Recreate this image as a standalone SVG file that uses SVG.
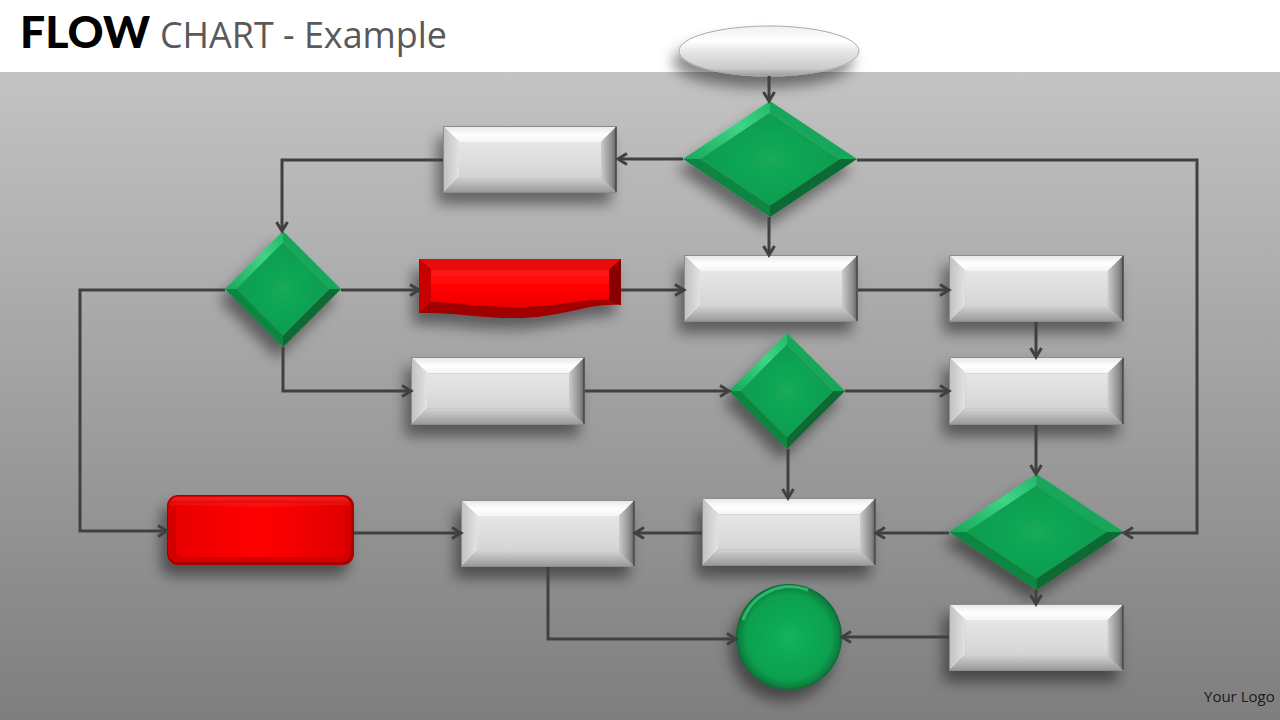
<svg xmlns="http://www.w3.org/2000/svg" xmlns:xlink="http://www.w3.org/1999/xlink" width="1280" height="720" viewBox="0 0 1280 720">
  <defs>
    <style>
      .conn { fill: none; stroke: #404040; stroke-width: 3; marker-end: url(#arrow); }
      .title-b { font-family: Lato, "Open Sans", sans-serif; font-weight: 900; fill: #000; }
      .title-r { font-family: "Open Sans", "Liberation Sans", sans-serif; font-weight: 400; fill: #595959; }
      .logo { font-family: "Open Sans", "Liberation Sans", sans-serif; font-size: 15px; fill: #1a1a1a; }
      .shadow { filter: url(#drop); }
    </style>
    <linearGradient id="bg" x1="0" y1="0" x2="0" y2="1">
      <stop offset="0" stop-color="#c3c3c3"/>
      <stop offset="1" stop-color="#7e7e7e"/>
    </linearGradient>
    <filter id="drop" x="-30%" y="-30%" width="160%" height="190%">
      <feDropShadow dx="-6" dy="11" stdDeviation="7" flood-color="#000" flood-opacity="0.45"/>
    </filter>
    <marker id="arrow" markerUnits="userSpaceOnUse" markerWidth="14" markerHeight="14" refX="11" refY="7" orient="auto" overflow="visible">
      <path d="M2,1.5 L11,7 L2,12.5" fill="none" stroke="#404040" stroke-width="3" stroke-linejoin="miter"/>
    </marker>
    <linearGradient id="gTop" x1="0" y1="0" x2="0" y2="1">
      <stop offset="0" stop-color="#e6e6e6"/>
      <stop offset="0.55" stop-color="#ffffff"/>
      <stop offset="1" stop-color="#f4f4f4"/>
    </linearGradient>
    <linearGradient id="gLeft" x1="0" y1="0" x2="1" y2="0">
      <stop offset="0" stop-color="#c0c0c0"/>
      <stop offset="1" stop-color="#e2e2e2"/>
    </linearGradient>
    <linearGradient id="gRight" x1="0" y1="0" x2="1" y2="0">
      <stop offset="0" stop-color="#cccccc"/>
      <stop offset="0.7" stop-color="#8a8a8a"/>
      <stop offset="1" stop-color="#555555"/>
    </linearGradient>
    <linearGradient id="gBot" x1="0" y1="0" x2="0" y2="1">
      <stop offset="0" stop-color="#d2d2d2"/>
      <stop offset="1" stop-color="#969696"/>
    </linearGradient>
    <linearGradient id="gFace" x1="0" y1="0" x2="0" y2="1">
      <stop offset="0" stop-color="#e6e6e6"/>
      <stop offset="0.5" stop-color="#dedede"/>
      <stop offset="1" stop-color="#d4d4d4"/>
    </linearGradient>
    <linearGradient id="grTL" x1="0" y1="1" x2="1" y2="0">
      <stop offset="0" stop-color="#17a85a"/>
      <stop offset="0.6" stop-color="#3fd486"/>
      <stop offset="1" stop-color="#22b868"/>
    </linearGradient>
    <radialGradient id="grFace" cx="0.5" cy="0.5" r="0.6">
      <stop offset="0" stop-color="#12ac58"/>
      <stop offset="1" stop-color="#0e9a4c"/>
    </radialGradient>
    <radialGradient id="circ" cx="0.5" cy="0.5" r="0.5">
      <stop offset="0" stop-color="#12b25a"/>
      <stop offset="0.8" stop-color="#0fa04f"/>
      <stop offset="0.95" stop-color="#0b8040"/>
      <stop offset="1" stop-color="#086632"/>
    </radialGradient>
    <linearGradient id="rFace" x1="0" y1="0" x2="0" y2="1">
      <stop offset="0" stop-color="#ff1a1a"/>
      <stop offset="0.5" stop-color="#ff0000"/>
      <stop offset="1" stop-color="#ea0000"/>
    </linearGradient>
    <linearGradient id="rPillow" x1="0" y1="0" x2="1" y2="0">
      <stop offset="0" stop-color="#e80000"/>
      <stop offset="0.5" stop-color="#ff0505"/>
      <stop offset="1" stop-color="#e00000"/>
    </linearGradient>
    <linearGradient id="rTop" x1="0" y1="0" x2="0" y2="1">
      <stop offset="0" stop-color="#ff3030"/>
      <stop offset="1" stop-color="#ff0000" stop-opacity="0"/>
    </linearGradient>
    <linearGradient id="oval" x1="0" y1="0" x2="0" y2="1">
      <stop offset="0" stop-color="#f0f0f0"/>
      <stop offset="0.3" stop-color="#ffffff"/>
      <stop offset="0.55" stop-color="#e2e2e2"/>
      <stop offset="0.85" stop-color="#cbcbcb"/>
      <stop offset="1" stop-color="#9a9a9a"/>
    </linearGradient>
    <symbol id="gbox" viewBox="0 0 174 67" preserveAspectRatio="none">
      <polygon points="0,0 174,0 158,16 16,16" fill="url(#gTop)"/>
      <polygon points="0,0 16,16 16,51 0,67" fill="url(#gLeft)"/>
      <polygon points="174,0 174,67 158,51 158,16" fill="url(#gRight)"/>
      <polygon points="0,67 16,51 158,51 174,67" fill="url(#gBot)"/>
      <rect x="16" y="16" width="142" height="35" fill="url(#gFace)"/>
      <rect x="0.5" y="0.5" width="173" height="66" fill="none" stroke="#8c8c8c" stroke-width="1"/>
      <line x1="173" y1="1" x2="173" y2="66" stroke="#4a4a4a" stroke-width="1.5"/>
    </symbol>
    <symbol id="diamond" viewBox="0 0 100 100" preserveAspectRatio="none">
      <polygon points="0,50 50,0 50,10 10,50" fill="url(#grTL)"/>
      <polygon points="50,0 100,50 90,50 50,10" fill="#17a75a"/>
      <polygon points="100,50 50,100 50,90 90,50" fill="#0a6a35"/>
      <polygon points="0,50 10,50 50,90 50,100" fill="#0c8642"/>
      <polygon points="50,10 90,50 50,90 10,50" fill="url(#grFace)"/>
    </symbol>
  </defs>

  <rect x="0" y="0" width="1280" height="720" fill="#ffffff"/>
  <rect x="0" y="72" width="1280" height="648" fill="url(#bg)"/>

  <g id="title">
    <text x="20" y="48" class="title-b" font-size="43" textLength="130" lengthAdjust="spacingAndGlyphs">FLOW</text>
    <text x="160" y="48" class="title-r" font-size="36" textLength="287" lengthAdjust="spacingAndGlyphs">CHART - Example</text>
  </g>

  <g id="start" class="shadow">
    <ellipse cx="769" cy="51" rx="90" ry="25" fill="url(#oval)" stroke="#aaaaaa" stroke-width="1"/>
  </g>
  <g id="decision1" class="shadow"><use href="#diamond" x="683" y="101" width="174" height="116"/></g>
  <g id="boxA" class="shadow"><use href="#gbox" x="443" y="126" width="174" height="67"/></g>
  <g id="decision2" class="shadow"><use href="#diamond" x="225" y="231" width="116" height="116"/></g>
  <g id="redDoc" class="shadow">
    <path d="M419,259 H621 V305 C590,302 562,318 515,318 C476,318 450,312 419,313 Z" fill="#a00000"/>
    <polygon points="419,259 621,259 609,270 431,270" fill="#e80a0a"/>
    <path d="M419,259 L431,270 V302 L419,313 Z" fill="#c80000"/>
    <path d="M621,259 V305 L609,300 V270 Z" fill="#880000"/>
    <path d="M431,270 H609 V300 C584,298 560,307 515,307 C478,307 452,302 431,302 Z" fill="url(#rFace)"/>
  </g>
  <g id="boxC" class="shadow"><use href="#gbox" x="684" y="255" width="174" height="67"/></g>
  <g id="boxD" class="shadow"><use href="#gbox" x="949" y="255" width="175" height="67"/></g>
  <g id="boxB" class="shadow"><use href="#gbox" x="411" y="357" width="174" height="68"/></g>
  <g id="decision3" class="shadow"><use href="#diamond" x="729" y="333" width="116" height="116"/></g>
  <g id="boxE" class="shadow"><use href="#gbox" x="949" y="357" width="175" height="68"/></g>
  <g id="redBox" class="shadow">
    <rect x="167" y="495" width="187" height="70" rx="11" fill="#a80000"/>
    <rect x="168" y="496" width="183" height="66" rx="10" fill="#d40000"/>
    <rect x="176" y="503" width="169" height="54" rx="6" fill="url(#rPillow)"/>
    <rect x="170" y="497" width="180" height="14" rx="8" fill="url(#rTop)" opacity="0.7"/>
  </g>
  <g id="boxF" class="shadow"><use href="#gbox" x="461" y="500" width="174" height="67"/></g>
  <g id="boxG" class="shadow"><use href="#gbox" x="702" y="498" width="174" height="68"/></g>
  <g id="decision4" class="shadow"><use href="#diamond" x="949" y="474" width="175" height="116"/></g>
  <g id="endCircle" class="shadow">
    <circle cx="789" cy="637" r="53" fill="url(#circ)"/>
    <path d="M743,620 A50,50 0 0 1 808,590" fill="none" stroke="#48d88c" stroke-width="3" opacity="0.6"/>
  </g>
  <g id="boxH" class="shadow"><use href="#gbox" x="949" y="604" width="175" height="67"/></g>

  <g id="connectors">
    <path class="conn" d="M769,76 V101"/>
    <path class="conn" d="M683,159 H618"/>
    <path class="conn" d="M443,160 H282 V231"/>
    <path class="conn" d="M857,160 H1197 V533 H1124"/>
    <path class="conn" d="M769,217 V255"/>
    <path class="conn" d="M341,290 H419"/>
    <path class="conn" d="M621,290 H684"/>
    <path class="conn" d="M858,290 H949"/>
    <path class="conn" d="M1036,322 V357"/>
    <path class="conn" d="M283,347 V391 H411"/>
    <path class="conn" d="M585,391 H729"/>
    <path class="conn" d="M845,391 H949"/>
    <path class="conn" d="M788,449 V498"/>
    <path class="conn" d="M1036,425 V474"/>
    <path class="conn" d="M949,533 H876"/>
    <path class="conn" d="M702,533 H635"/>
    <path class="conn" d="M225,290 H80 V531 H167"/>
    <path class="conn" d="M354,533 H461"/>
    <path class="conn" d="M548,567 V639 H736"/>
    <path class="conn" d="M1036,590 V604"/>
    <path class="conn" d="M949,637 H842"/>
  </g>

  <text x="1204" y="702" class="logo">Your Logo</text>
</svg>
